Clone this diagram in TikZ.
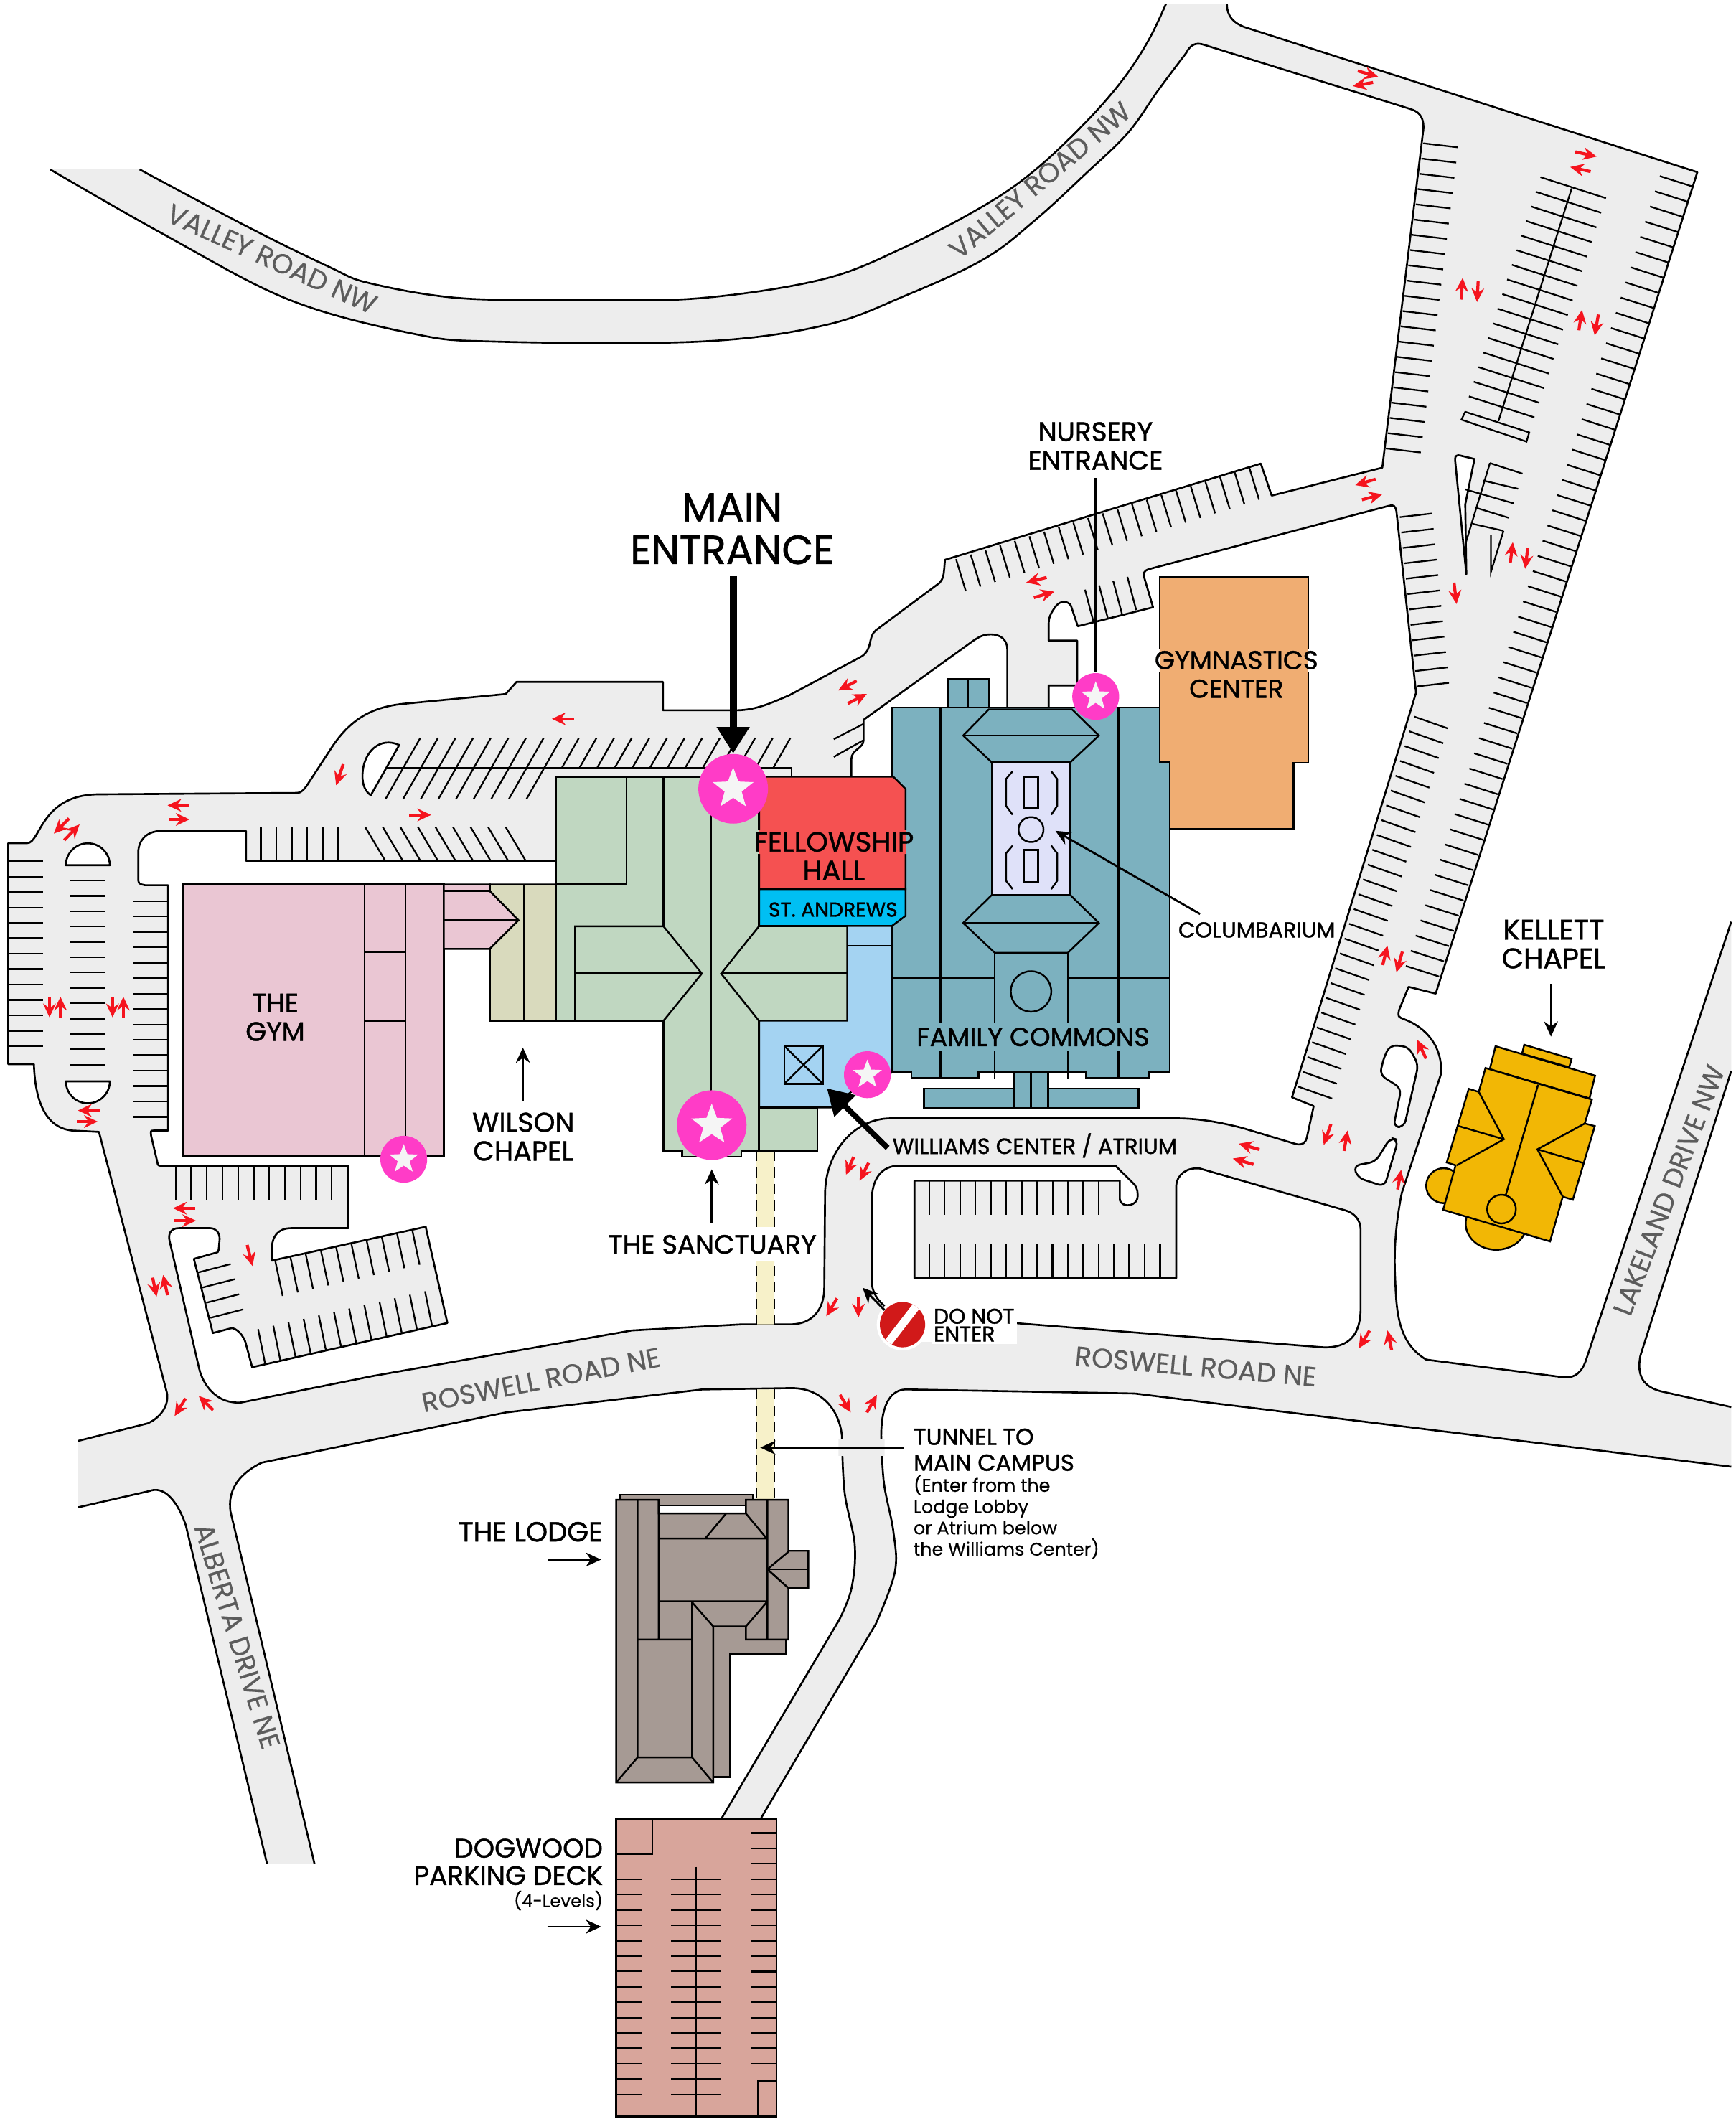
\documentclass[tikz,border=0pt]{standalone}
\usepackage{fontspec}
\setmainfont{Poppins}[FakeBold=1.2]
\newfontfamily\roadf{Poppins}
\newfontfamily\subf{Poppins}[FakeBold=0.3]
\usetikzlibrary{arrows.meta,shapes.geometric}
\definecolor{roadc}{HTML}{EDEDED}
\definecolor{redc}{HTML}{F5141E}
\definecolor{pinkc}{HTML}{EAC6D3}
\definecolor{wilsonc}{HTML}{D9DABD}
\definecolor{greenc}{HTML}{C0D7C1}
\definecolor{bluec}{HTML}{A4D3F2}
\definecolor{fellowc}{HTML}{F55151}
\definecolor{cyanc}{HTML}{00BFF3}
\definecolor{tealc}{HTML}{7CB1BF}
\definecolor{lavc}{HTML}{DFE1F9}
\definecolor{orangec}{HTML}{F0AD72}
\definecolor{goldc}{HTML}{F2B705}
\definecolor{lodgec}{HTML}{A69A94}
\definecolor{deckc}{HTML}{D8A59B}
\definecolor{tunnelc}{HTML}{F7F1C9}
\definecolor{starc}{HTML}{FF3CC7}
\definecolor{roadtxt}{HTML}{5C5C5C}
\tikzset{
 edge/.style={line width=.75pt,line join=round},
 stall/.style={line width=.65pt},
 bld/.style={line width=.7pt,line join=miter},
 redar/.style={draw=redc,line width=1.2pt,-{Stealth[length=5.4pt,width=5pt]}},
 lab/.style={inner sep=0pt,align=center,text=black,font=\fontsize{10.5}{11.3}\selectfont},
 roadname/.style={inner sep=0pt,text=roadtxt,font=\subf\fontsize{10.8}{11}\selectfont},
 thin arrow/.style={line width=.8pt,-{Stealth[length=6pt,width=5.5pt]}},
 bigdot/.style={circle,fill=starc,inner sep=0pt,minimum size=27.5pt},
 smalldot/.style={circle,fill=starc,inner sep=0pt,minimum size=18.5pt},
 bigstar/.style={star,star points=5,star point ratio=2.4,fill=white!96!black,inner sep=0pt,minimum size=17pt},
 smallstar/.style={star,star points=5,star point ratio=2.4,fill=white!96!black,inner sep=0pt,minimum size=12pt},
}
\newcommand\stalls[7]{\foreach \k in {0,...,#7}{\pgfmathsetmacro\px{#1+(#3-#1)/#7*\k}\pgfmathsetmacro\py{#2+(#4-#2)/#7*\k}\draw[stall] (\px,\py) -- ++(#5,#6);}}
\def\Bone{plot[smooth,tension=.6] coordinates {(103,125)(182,167)(243,197)(273,209)(340,220)(430,221)(516,220)(607,206)(668,182)(727,151)(764,125)(801,90)(828,59)(847,30)(860,3)}}
\def\Btwo{(905,3) .. controls (905,12) and (910,17) .. (918,20) -- (1252,127) -- (1059,733) -- (1039,728) -- (1032,745) .. controls (1031,750) .. (1036,752) .. controls (1052,758) and (1064,772) .. (1063,792) -- (1034,880) .. controls (1030,900) and (1028,920) .. (1029,941) .. controls (1030,965) and (1030,990) .. (1052,1003) -- (1153,1016) .. controls (1162,1017) and (1167,1012) .. (1170,1003) -- (1277,680)}
\def\Bthree{(1277,790) -- (1210,1000) .. controls (1207,1015) and (1212,1024) .. (1228,1027) -- (1277,1038)}
\def\Bfour{(1277,1082) -- (837,1028) -- (670,1025) .. controls (655,1024) and (650,1040) .. (650,1059) -- plot[smooth,tension=.6] coordinates {(650,1059)(652,1094)(659,1130)(660,1160)(646,1198)} -- (561.5,1341)}
\def\Bfive{(532.5,1341) -- (619,1195) -- plot[smooth,tension=.6] coordinates {(619,1195)(628,1172)(630.5,1140)(623,1101)(621,1059)} .. controls (619,1040) and (606,1024) .. (584,1024) -- (518,1025) -- (373,1042) -- (193,1079) .. controls (175,1088) and (168,1100) .. (170,1115) -- (232,1375)}
\def\Bsix{(197,1375) -- (137,1125) .. controls (130,1105) and (120,1096) .. (110,1100) -- (57.5,1112)}
\def\Bseven{(57.5,1063) -- (109,1050) .. controls (120,1045) and (125,1035) .. (123,1027) -- (73,835) -- (53,834) .. controls (35,832) and (26,815) .. (25,785) -- (6,785) -- (6,622) -- (20,622) .. controls (30,622) and (30,586) .. (73,586) -- (215,585) .. controls (222,585) .. (226,580) -- (243,554) .. controls (258,530) and (275,521) .. (300,519) -- (373,512) -- (381,503) -- (489,503) -- (489,524) -- (543,524) .. controls (558,524) and (570,518) .. (582,513) -- (636,484) .. controls (644,478) and (640,470) .. (646,465) -- (693,430) .. controls (696,426) .. (697,413) -- (930,342) -- (938,365.6) -- (1019.6,345) -- (1050,94.5) .. controls (1050,85) and (1046,82) .. (1039,80) -- (888,33) .. controls (882,31) and (878,33) .. (875,39) -- plot[smooth,tension=.6] coordinates {(875,39)(854,67)(832,98)(801,128)(764,162)(726,191)(668,218)(608,240)(516,252)(365,252)(304,246)(213,221)(121,173)(37,125)}}
\begin{document}
\begin{tikzpicture}[x=.5355pt,y=-.5355pt]
\useasboundingbox (0,0) rectangle (1280,1566.9);
\fill[white] (0,0) rectangle (1280,1566.9);
% road surface
\fill[roadc] \Bone -- \Btwo -- \Bthree -- \Bfour -- \Bfive -- \Bsix -- \Bseven -- cycle;
% parking stalls
\stalls{1049.8}{105.7}{1022.3}{330.8}{25.7}{3}{20}
\stalls{1136.3}{130.7}{1083.5}{292.4}{48.3}{15.5}{15}
\draw[stall] (1159.3,139) -- (1105.3,310.6);
\draw[stall,fill=roadc] (1080.8,303.8) -- (1128,319) -- (1126,325.8) -- (1078,309.6) -- cycle;
\stalls{1248.8}{137.7}{1061.5}{720.4}{-24.5}{-7.8}{52}
\stalls{1032.5}{381.5}{1045}{506.4}{23.8}{-2.7}{11}
\stalls{1043}{528.6}{957.6}{801.6}{25}{8.8}{25}
\stalls{705.2}{412.5}{921.5}{345}{7.2}{23.6}{20}
\stalls{800.3}{435}{831.6}{425.6}{6.5}{24.5}{3}
% left lot
\stalls{5.7}{635.4}{5.7}{771.7}{25.9}{0}{12}
\stalls{51.9}{649.5}{51.9}{785.4}{25.9}{0}{12}
\stalls{98.4}{664.7}{98.4}{824}{25.6}{0}{14}
\stalls{192.4}{610.1}{249.5}{610.1}{0}{25.3}{5}
\stalls{269.4}{610.1}{373}{610.1}{15}{25.3}{8}
\stalls{310}{544.4}{414}{544.4}{-25.6}{45}{8}
\stalls{427}{544.4}{583}{544.4}{-12.8}{22.5}{12}
\draw[stall] (284.8,566.6) -- (584,566.6) -- (584,573);
\draw[stall] (615,545.3) -- (637.2,533.9) (615,558.4) -- (637,546);
\stalls{129.6}{860}{244.7}{860}{0}{24.9}{10}
\stalls{203}{930}{304}{907}{5.5}{26}{9}
\stalls{195.7}{1006.6}{318.8}{978.6}{-5.3}{-26}{11}
\stalls{145.8}{938.8}{155.2}{972.2}{24.3}{-6.3}{3}
% road edges
\draw[edge] \Bone; \draw[edge] \Btwo; \draw[edge] \Bthree; \draw[edge] \Bfour;
\draw[edge] \Bfive; \draw[edge] \Bsix; \draw[edge] \Bseven;
% islands
\draw[edge,fill=white] (410,635) -- (181.5,635) -- (181.5,613) -- (119,613) .. controls (108,613) and (102,620) .. (102,629) -- (102,647) .. controls (102,652) .. (107,653) -- (124,653) -- (124,834) -- (114,834) .. controls (111,834) .. (111.5,838) -- (116,857) .. controls (116.5,860) .. (120,860) -- (257,860) -- (257,906) -- (215,906) .. controls (205,906) and (200.5,912) .. (200.5,922) -- (200.5,930) -- (314,905) -- (330,976) -- (186,1008.6) -- (181,990) .. controls (178,982) and (172,979) .. (170,980) -- (157,983.4) -- (143,928.7) -- (158,924.5) .. controls (161,924) .. (161.5,920) -- (162,914) .. controls (162,909) and (159,906) .. (155,906) -- (132,906) .. controls (126,906) and (124,910) .. (125,915) -- (147,1010) .. controls (150,1022) and (160,1036) .. (178,1034.6) -- (275.5,1015) -- (466,981.5) -- (547,977) -- (583,977) .. controls (600,977) and (608,965) .. (608,950) -- (608.6,880) .. controls (609,850) and (630,825) .. (657,825) -- (867,825) .. controls (885,825) and (900,828) .. (916,832) -- (956,844) .. controls (961,845) and (963,843) .. (964,839) -- (969,816) -- (953,809.5) -- (1044.5,511) -- (1030,377) .. controls (1029,373) and (1028,372.5) .. (1025,373) -- (847,420) .. controls (844,421) and (843,423) .. (844,426) -- (850.5,448) -- (795,462) -- (790,447) .. controls (788,443) and (782,443) .. (779,447) .. controls (775,452) and (773.5,456) .. (773.5,460) -- (773.5,472.6) -- (794.6,472.6) -- (794.6,505.7) -- (773.5,505.7) -- (773.5,523) -- (743,523) -- (743,479) .. controls (743,472) and (738,468) .. (731,468) .. controls (725,468) and (722,470) .. (718,472.6) -- (637,531) -- (637,546) .. controls (637,552) and (628,553) .. (628,560) -- (628,573) -- (560,600) -- cycle;
\draw[edge,fill=white] (643,945) -- (643,886) .. controls (643,870) and (650,860) .. (663,860) -- (822.8,860) -- (837,874) .. controls (839,877) and (839.5,880) .. (839,884) .. controls (838,889) and (830,891) .. (827,887) .. controls (826,886) .. (826,883) -- (826,871) -- (674.5,871) -- (674.5,943) -- (867.6,943) -- (867.6,875) .. controls (868,866) and (876,861) .. (885,862) -- (992.7,893) .. controls (999,895) and (1003.6,900) .. (1003.6,907) -- (1003.6,965) .. controls (1003.6,985) and (995,994) .. (977,994) -- (748,976) -- (665,970) .. controls (650,965) and (643,955) .. (643,945) -- cycle;
\stalls{685.4}{871}{810.5}{871}{0}{25}{11}
\stalls{685.4}{918}{855.7}{918}{0}{25}{15}
\draw[edge,fill=white,rounded corners=2.5pt] (1025.6,770.9) -- (1038.9,772.2) -- (1046.2,785.4) -- (1035.7,831.4) -- (1027.8,831.4) -- (1033.6,802.9) -- (1017.7,792.8) -- (1021.2,778.8) -- cycle;
\draw[edge,fill=white,rounded corners=2.5pt] (1025.6,839.3) -- (1031.3,841) -- (1021.2,875.3) -- (1001.5,868.8) -- (998.4,860) -- (1014.6,857) -- cycle;
\draw[edge,fill=white] (48.6,638.3) arc[start angle=180,end angle=360,x radius=16.2,y radius=16.2] -- cycle;
\draw[edge,fill=white] (48.6,797.7) arc[start angle=180,end angle=0,x radius=16.2,y radius=16.2] -- cycle;
\draw[edge,fill=white] (273.5,586.7) -- (294.5,549.6) .. controls (280,543) and (268,555) .. (267.4,571) .. controls (267,580) and (270,584) .. (273.5,586.7) -- cycle;
% middle island of the main lot
\draw[edge,fill=white] (1081.6,423.7) -- (1073.3,339.3) .. controls (1073,336) and (1075,335.5) .. (1077,336) -- (1087.6,338.6) -- (1080.8,372) -- cycle;
\draw[stall] (1099,341.6) -- (1080.8,401.7);
\draw[stall] (1099,341.6) -- (1123,349.4) (1094,354.5) -- (1119.8,360.6) (1080.8,361) -- (1116.7,371.4) (1089,374.7) -- (1112.9,382) (1086.5,386.5) -- (1109,391.6);
\draw[stall] (1109,391.6) -- (1099.7,422) -- (1099.7,395);
% tunnel
\fill[tunnelc] (557.8,849) rectangle (571.2,977) (557.8,1025) rectangle (571.2,1106);
\draw[line width=.5pt,dash pattern=on 4pt off 2.5pt] (557.8,849) -- (557.8,977) (571.2,849) -- (571.2,977) (557.8,1025) -- (557.8,1106) (571.2,1025) -- (571.2,1106);
% sanctuary, gym, chapel
\begin{scope}[shift={(0,476.4)},xscale=.4051,yscale=.3714]
\draw[bld,fill=pinkc] (333,474) rectangle (808,1014);
\draw[bld] (664,474) -- (664,1014) (738,474) -- (738,1014) (664,608) -- (738,608) (664,745) -- (738,745);
\draw[bld,fill=pinkc] (808,474) -- (892,474) -- (892,487) -- (944,545) -- (892,602) -- (808,602) -- cycle;
\draw[bld] (808,487) -- (892,487) (808,545) -- (944,545);
\draw[bld,fill=wilsonc] (892,474) -- (1013,474) -- (1013,745) -- (892,745) -- (892,602) -- (944,545) -- (892,487) -- cycle;
\draw[bld] (954,474) -- (954,745);
\draw[bld,fill=greenc] (1013,260) -- (1382,260) -- (1382,557) -- (1543,557) -- (1543,745) -- (1382,745) -- (1382,917) -- (1488,917) -- (1488,1003) -- (1350,1003) -- (1350,1015) -- (1242,1015) -- (1242,1003) -- (1208,1003) -- (1208,745) -- (1013,745) -- cycle;
\draw[bld] (1141,260) -- (1141,474) -- (1013,474);
\draw[bld] (1208,260) -- (1208,557) (1295,260) -- (1295,900) (1382,745) -- (1382,1003);
\draw[bld] (1047,557) -- (1208,557) -- (1278,651) -- (1208,745) -- (1047,745) -- cycle;
\draw[bld] (1047,651) -- (1278,651);
\draw[bld] (1382,557) -- (1313,651) -- (1382,745);
\draw[bld] (1313,651) -- (1543,651);
\end{scope}
% atrium
\draw[bld,fill=bluec] (560,753) -- (625,753) -- (625,683) -- (658.5,683) -- (658.5,791) -- (635,800) -- (613,817) -- (560,817) -- cycle;
\draw[bld] (625,697.6) -- (658.5,697.6);
\draw[bld] (578.5,771.6) rectangle (606.9,799.5);
\draw[bld] (578.5,771.6) -- (606.9,799.5) (606.9,771.6) -- (578.5,799.5);
% gymnastics, family commons
\begin{scope}[shift={(582.3,370.6)},scale=.4389]
\draw[bld,fill=orangec] (622,125) -- (872,125) -- (872,438) -- (847,438) -- (847,549) -- (639,549) -- (639,437) -- (622,437) -- cycle;
\draw[bld,fill=tealc] (266,297) rectangle (335,345);
\draw[bld] (300,297) -- (300,345);
\draw[bld,fill=tealc] (226,985) rectangle (587,1018);
\draw[bld,fill=tealc] (378,958) rectangle (435,1018);
\draw[bld] (406,958) -- (406,1018);
\draw[bld,fill=tealc] (173,345) -- (622,345) -- (622,437) -- (639,437) -- (639,958) -- (605,958) -- (605,968) -- (498,968) -- (498,958) -- (318,958) -- (318,968) -- (205,968) -- (205,958) -- (173,958) -- cycle;
\draw[bld] (254,345) -- (254,968) (553,345) -- (553,968) (173,800) -- (345,800) (468,800) -- (639,800);
\draw[bld] (345,968) -- (345,757) -- (468,757) -- (468,968);
\draw[bld] (406,822) circle[radius=34];
\draw[bld,fill=tealc] (335,348) -- (475,348) -- (520,392) -- (472,437) -- (340,437) -- (292,392) -- cycle;
\draw[bld] (292,392) -- (520,392);
\draw[bld,fill=tealc] (340,660) -- (472,660) -- (520,707) -- (468,757) -- (345,757) -- (292,707) -- cycle;
\draw[bld] (292,707) -- (520,707);
\draw[bld,fill=lavc] (340,437) rectangle (472,660);
\draw[bld] (394,462) rectangle (418,514) (394,584) rectangle (418,638);
\draw[bld] (406,550) circle[radius=21];
\draw[bld] (375,452) -- (364,465) -- (364,510) -- (375,525) (440,452) -- (450,465) -- (450,510) -- (440,525);
\draw[bld] (375,577) -- (364,590) -- (364,636) -- (375,650) (440,577) -- (450,590) -- (450,636) -- (440,650);
\end{scope}
% fellowship hall sits over the commons edge
\draw[bld,fill=fellowc] (560,573) -- (659,573) -- (668,582) -- (668,656) -- (560,656) -- cycle;
\draw[bld,fill=cyanc] (560,656) -- (668,656) -- (668,675.6) -- (658,683) -- (560,683) -- cycle;
% Kellett
\begin{scope}[shift={(1032.2,741.1)},scale=.17645]
\draw[bld,fill=goldc] (185,757) circle[radius=73];
\draw[bld,fill=goldc] (405,915) ellipse[x radius=128,y radius=110];
\draw[bld,fill=goldc] (522,168) -- (720,227) -- (710,262) -- (513,205) -- cycle;
\draw[bld,fill=goldc] (402,174) -- (818,297) -- (795,392) -- (378,270) -- cycle;
\draw[bld,fill=goldc] (360,265) -- (805,397) -- (775,497) -- (817,508) -- (725,816) -- (683,803) -- (630,990) -- (183,858) -- (235,672) -- (198,660) -- (290,352) -- (332,365) -- cycle;
\draw[bld] (580,335) -- (445,795);
\draw[bld] (332,365) -- (437,563) -- (240,672) (245,507) -- (437,563);
\draw[bld] (775,497) -- (577,605) -- (683,803) (577,605) -- (768,662);
\draw[bld,fill=goldc] (427,855) circle[radius=60];
\end{scope}
% lodge and deck
\begin{scope}[shift={(370.6,1058.8)},xscale=.2363,yscale=.3242]
\draw[bld,fill=lodgec] (367,135) rectangle (782,160);
\draw[bld,fill=lodgec] (658,430) -- (885,430) -- (885,497) -- (710,497) -- (710,778) -- (658,778) -- cycle;
\draw[bld,fill=lodgec] (893,263) -- (955,263) -- (955,348) -- (893,348) -- (827,305) -- cycle;
\draw[bld] (827,305) -- (955,305);
\draw[bld,fill=lodgec] (355,147) -- (488,147) -- (488,178) -- (760,178) -- (760,147) -- (893,147) -- (893,265) -- (827,305) -- (893,348) -- (893,465) -- (760,465) -- (760,435) -- (658,435) -- (658,790) -- (355,790) -- cycle;
\draw[bld] (422,147) -- (422,733) (488,147) -- (488,465) (422,465) -- (592,465) (422,733) -- (592,733) (592,380) -- (592,733) (355,790) -- (422,733) (658,790) -- (592,733) (488,235) -- (825,235) (488,378) -- (825,378) (760,178) -- (825,235) (698,178) -- (633,235) (827,147) -- (827,465) (592,380) -- (658,435) (760,435) -- (825,380);
\draw[bld,fill=deckc] (355,873) rectangle (855,1550);
\draw[bld] (355,953) -- (468,953) -- (468,873) (798,1550) -- (798,1468) -- (855,1468) (605,982) -- (605,1550);
\end{scope}
\stalls{454.5}{1386.2}{454.5}{1545.1}{18.9}{0}{14}
\stalls{495.1}{1386.2}{495.1}{1545.1}{36.9}{0}{14}
\stalls{554.2}{1352.2}{554.2}{1522.4}{18.4}{0}{15}
% red arrows
\foreach \a/\b/\c/\d in {1001.5/52.3/1016.6/56.7,1012.8/60.8/997.8/63.5,1162/112/1177.8/115.5,1173.3/126.6/1158.2/123.2,1077.8/221/1078.9/205,1090.3/207.6/1089.5/222.8,1164.6/243.7/1166.9/228.6,1179/232/1176.3/247.5,1014.7/353.5/999.6/357.9,1004.6/368.7/1019.6/364.6,772/426/756.9/429.8,762.6/440.9/777.7/436.5,1114/415.2/1115.9/400,1126.9/404/1125/419.6,1072.5/429.8/1074.4/445.6,631.9/502.3/618.3/509.3,625.3/519/639.4/511.9,1019.9/712/1023.4/697.6,1034.4/702/1030/717.3,1051.9/781/1045.3/767,1030.9/877.5/1033.5/863,929/848/913.7/843.7,924.6/859/909.3/854.7,981.7/829.3/976.4/844.6,991.4/849/994/834,629.7/853.4/624/866.6,640.7/857.8/634.1/871,617.4/957.8/609.5/971,633.2/956.5/633.2/971.9,1010.2/981.6/1002.3/994.7,1026.5/996/1023.4/981.5,619.6/1029/627.5/1042,639.4/1042/646.8/1029,423.3/530.3/407.1/530.3,301.8/601.2/318/601.2,253.2/563.7/247.9/579.3,139/594.1/123.6/594.1,124.4/604.5/139.8/604.5,51/603.8/39.7/614.9,47.4/619.8/58.7/608.2,36.5/735.3/36.5/750.5,44.6/750.5/44.6/735.3,83/735.3/83/750.5,91/750.5/91/735.3,73.7/819.2/57.5/819.2,56.7/827.4/72.1/827.4,143.8/891.3/127.6/891.3,128.4/900.5/144.6/900.5,182.3/918.4/186.3/934,112.6/942.5/115.5/956.6,123.6/955.5/120.3/940.6,136.9/1031.6/128.8/1044.6,157.2/1040.2/146.6/1029.8}{\draw[redar] (\a,\b) -- (\c,\d);}
% stars
\node[bigdot] (mainstar) at (540.8,581.9) {};
\node[bigstar] (mainstarin) at (540.8,581.9) {};
\node[bigdot] (sanctstar) at (525,830) {};
\node[bigstar] (sanctstarin) at (525,830) {};
\node[smalldot] (gymstar) at (297.8,855.2) {};
\node[smallstar] (gymstarin) at (297.8,855.2) {};
\node[smalldot] (nurstar) at (808.2,513.8) {};
\node[smallstar] (nurstarin) at (808.2,513.8) {};
\node[smalldot] (willstar) at (639.8,792.8) {};
\node[smallstar] (willstarin) at (639.8,792.8) {};
% do not enter sign
\fill[white] (665.7,977.2) circle[radius=19];
\fill[white] (676,964) rectangle (690,990);
\fill[red!80!black!90!white] (665.7,977.2) circle[radius=16.7];
\begin{scope}
\clip (665.7,977.2) circle[radius=16.7];
\draw[white,line width=3.2pt] (650,997) -- (681,957);
\end{scope}
% gaps in outlines behind labels
\fill[white] (853.6,479) rectangle (855.3,496);
\fill[orangec] (855.3,479) rectangle (857,496) (963,479) rectangle (965,496);
\fill[white] (965,479) rectangle (966.7,496);
\fill[greenc] (558.4,612) rectangle (560,630);
\fill[fellowc] (560,612) rectangle (561.6,630) (666.4,612) rectangle (668,630);
\fill[tealc] (668,612) rectangle (669.6,630);
\fill[roadc] (618.5,1062) rectangle (623.5,1074) (647.5,1062) rectangle (652.5,1074);
% labels
\node[lab,font=\fontsize{16}{16.8}\selectfont] (mainlab) at (540,390) {MAIN\\ENTRANCE};
\node[lab,font=\fontsize{10.6}{11.3}\selectfont] (nurlab) at (808,329) {NURSERY\\ENTRANCE};
\node[lab] (gymlab) at (203,750.5) {THE\\GYM};
\node[lab,font=\fontsize{10.8}{11.3}\selectfont] (willab) at (386,838.5) {WILSON\\CHAPEL};
\node[lab,fill=white,inner ysep=3pt] (sanlab) at (525.5,918) {THE SANCTUARY};
\node[lab,anchor=west,font=\fontsize{8.65}{10}\selectfont] (atrlab) at (658,845) {WILLIAMS CENTER / ATRIUM};
\node[lab,font=\fontsize{8.6}{10}\selectfont] (collab) at (927,686) {COLUMBARIUM};
\node[lab,font=\fontsize{11.2}{11.3}\selectfont] (kellab) at (1146,696.5) {KELLETT\\CHAPEL};
\node[lab,font=\fontsize{10.2}{11.3}\selectfont] (gymnlab) at (912,497.5) {GYMNASTICS\\CENTER};
\node[lab,font=\fontsize{11}{11.3}\selectfont] (fellab) at (615,631.5) {FELLOWSHIP\\HALL};
\node[lab,font=\fontsize{8}{10}\selectfont] (stalab) at (614.5,671) {ST. ANDREWS};
\node[lab,fill=tealc,inner sep=2pt,font=\fontsize{10.3}{11.3}\selectfont] (famlab) at (762,765) {FAMILY COMMONS};
\node[lab,anchor=west,align=left,font=\fontsize{8.4}{7}\selectfont,fill=white,inner sep=1pt] (dnelab) at (686.5,977.5) {DO NOT\\ENTER};
\node[lab,anchor=west,align=left,font=\fontsize{9.2}{10.2}\selectfont] (tunlab) at (673.5,1069.5) {TUNNEL TO\\MAIN CAMPUS};
\node[lab,anchor=west,align=left,font=\subf\fontsize{7.2}{8.4}\selectfont] (tunsub) at (673.5,1119) {(Enter from the\\Lodge Lobby\\or Atrium below\\the Williams Center)};
\node[lab,anchor=east,font=\fontsize{10.9}{11.3}\selectfont] (lodlab) at (445,1130) {THE LODGE};
\node[lab,anchor=east,align=right,font=\fontsize{10.6}{10.8}\selectfont] (declab) at (445,1373.5) {DOGWOOD\\PARKING DECK};
\node[lab,anchor=east,font=\subf\fontsize{6.9}{9}\selectfont] (lvllab) at (445,1402) {(4-Levels)};
% road names
\node[roadname,rotate=-24.5] (v1) at (200.5,191) {VALLEY ROAD NW};
\node[roadname,rotate=40] (v2) at (767,133) {VALLEY ROAD NW};
\node[roadname,rotate=11] (r1) at (399,1018) {ROSWELL ROAD NE};
\node[roadname,rotate=-5] (r2) at (882,1008) {ROSWELL ROAD NE};
\node[roadname,rotate=-73] (al) at (175,1207) {ALBERTA DRIVE NE};
\node[roadname,rotate=69] (la) at (1231,878) {LAKELAND DRIVE NW};
% callout arrows
\coordinate (mainfrom) at (540.8,425);
\draw[line width=2.8pt,-{Triangle[length=10.5pt,width=12.4pt]}] (mainfrom) -- (mainstar.north);
\coordinate (nurfrom) at (808.2,352.8);
\draw[line width=.8pt] (nurfrom) -- (nurstar.north);
\coordinate (wilfrom) at (385.7,812.5); \coordinate (wilto) at (385.7,772.8);
\draw[thin arrow] (wilfrom) -- (wilto);
\coordinate (sanfrom) at (525,902.4); \coordinate (santo) at (525,862.6);
\draw[thin arrow] (sanfrom) -- (santo);
\coordinate (atrfrom) at (654.7,846.8); \coordinate (atrto) at (610,802.9);
\draw[line width=2.2pt,-{Triangle[length=10pt,width=11.5pt]}] (atrfrom) -- (atrto);
\coordinate (colfrom) at (885.2,674.3); \coordinate (colto) at (778.5,612.9);
\draw[thin arrow] (colfrom) -- (colto);
\coordinate (kelfrom) at (1144,726); \coordinate (kelto) at (1144,764.7);
\draw[thin arrow] (kelfrom) -- (kelto);
\coordinate (dnefrom) at (652.5,966.5); \coordinate (dneto) at (636.3,950);
\draw[thin arrow] (dnefrom) -- (dneto);
\coordinate (tunfrom) at (666.7,1067.9); \coordinate (tunto) at (560.8,1067.9);
\draw[thin arrow] (tunfrom) -- (tunto);
\coordinate (lodfrom) at (403.7,1150.5); \coordinate (lodto) at (443.4,1150.5);
\draw[thin arrow] (lodfrom) -- (lodto);
\coordinate (decfrom) at (403.7,1421.3); \coordinate (decto) at (443.4,1421.3);
\draw[thin arrow] (decfrom) -- (decto);
\end{tikzpicture}
\end{document}
